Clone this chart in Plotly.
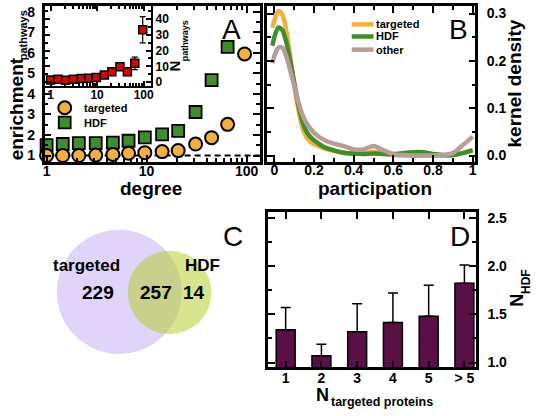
import plotly.graph_objects as go

W, H = 537, 416
FONT = "Liberation Sans, Arial, Helvetica, sans-serif"

# ---------------- data ----------------
# Panel A: enrichment vs degree
degree = [1, 1.45, 2.1, 3.1, 4.6, 6.6, 9.6, 14.3, 20.7, 30.9, 44.7, 64.6, 95.5]
enrich_targeted = [1.0, 1.0, 1.0, 1.02, 1.05, 1.11, 1.14, 1.19, 1.24, 1.56, 1.87, 2.52, 5.95]
degree_hdf = [1, 1.45, 2.1, 3.1, 4.6, 6.6, 9.6, 14.3, 20.7, 30.9, 44.7, 64.6]
enrich_hdf = [1.51, 1.56, 1.6, 1.6, 1.63, 1.72, 1.88, 2.03, 2.2, 3.12, 4.67, 6.29]
# inset: N pathways vs degree
n_pathways = [1.4, 1.9, 1.2, 1.9, 2.3, 2.5, 2.9, 4.6, 6.6, 9.8, 6.6, 11.9, 33.2]
n_pathways_err = [0.4, 0.4, 0.4, 0.4, 0.4, 0.5, 0.5, 0.6, 0.8, 1.0, 1.0, 4.0, 8.3]

# Panel B: kernel density of participation
participation = [-0.01, 0.0, 0.02, 0.04, 0.06, 0.08, 0.10, 0.12, 0.14, 0.16, 0.18, 0.20,
                 0.25, 0.30, 0.35, 0.40, 0.45, 0.50, 0.55, 0.60, 0.65, 0.70, 0.75,
                 0.80, 0.85, 0.90, 0.95, 1.0]
kd_targeted = [0.27, 0.285, 0.305, 0.298, 0.265, 0.21, 0.15, 0.10, 0.06, 0.04, 0.03, 0.024,
               0.015, 0.01, 0.006, 0.004, 0.004, 0.008, 0.004, 0.001, 0.0, 0.0, 0.0,
               0.0, 0.0, 0.001, 0.006, 0.012]
kd_hdf = [0.232, 0.25, 0.27, 0.265, 0.24, 0.2, 0.155, 0.11, 0.075, 0.052, 0.04, 0.032,
          0.018, 0.011, 0.006, 0.004, 0.003, 0.004, 0.003, 0.003, 0.005, 0.007, 0.007,
          0.003, 0.001, 0.001, 0.005, 0.011]
kd_other = [0.195, 0.21, 0.228, 0.228, 0.21, 0.18, 0.148, 0.115, 0.088, 0.07, 0.058, 0.048,
            0.033, 0.025, 0.02, 0.013, 0.013, 0.02, 0.011, 0.003, 0.001, 0.0, 0.0,
            0.0, 0.001, 0.005, 0.022, 0.04]

# Panel C: Venn counts
venn_only_targeted = 229
venn_both = 257
venn_only_hdf = 14

# Panel D: N_HDF vs N_targeted proteins
d_categories = ["1", "2", "3", "4", "5", "> 5"]
n_hdf = [1.34, 1.07, 1.32, 1.415, 1.48, 1.82]
n_hdf_err = [0.23, 0.12, 0.29, 0.305, 0.32, 0.19]

# ---------------- styles ----------------
C_ORANGE = "#F2B03E"
C_GREEN = "#3F8D2C"
C_RED = "#CC0A0A"
C_PINK = "#B89C97"
C_BAR = "#5A0F46"


def px(x):
    return x / W


def py(y):
    return 1 - y / H


def tfont(size, bold=True):
    d = dict(family=FONT, size=size, color="black")
    if bold:
        d["weight"] = "bold"
    return d


def ax(**kw):
    d = dict(showline=True, linecolor="black", linewidth=2.5, mirror="ticks",
             ticks="inside", ticklen=7, tickwidth=2, tickcolor="black",
             showgrid=False, zeroline=False, tickfont=tfont(14), fixedrange=True)
    d.update(kw)
    return d


def minor(**kw):
    d = dict(ticks="inside", ticklen=4, tickwidth=1.5, tickcolor="black", showgrid=False)
    d.update(kw)
    return d


log_minor = [2, 3, 4, 5, 6, 7, 8, 9, 20, 30, 40, 50, 60, 70, 80, 90]

fig = go.Figure()

# ---- Panel A ----
fig.add_trace(go.Scatter(x=degree_hdf, y=enrich_hdf, mode="markers", xaxis="x", yaxis="y",
                         marker=dict(symbol="square", size=12, color=C_GREEN,
                                     line=dict(color="black", width=1.8)),
                         cliponaxis=False, name="HDF"))
fig.add_trace(go.Scatter(x=degree, y=enrich_targeted, mode="markers", xaxis="x", yaxis="y",
                         marker=dict(symbol="circle", size=13, color=C_ORANGE,
                                     line=dict(color="black", width=2)),
                         cliponaxis=False, name="targeted"))
# inset
fig.add_trace(go.Scatter(x=degree, y=n_pathways, mode="markers", xaxis="x3", yaxis="y3",
                         marker=dict(symbol="square", size=8, color=C_RED,
                                     line=dict(color="black", width=1.5)),
                         error_y=dict(type="data", array=n_pathways_err, color="black",
                                      thickness=1.2, width=3),
                         cliponaxis=False, name="N pathways"))

# ---- Panel B ----
for yv, col, nm in [(kd_targeted, C_ORANGE, "targeted"), (kd_hdf, C_GREEN, "HDF"),
                    (kd_other, C_PINK, "other")]:
    fig.add_trace(go.Scatter(x=participation, y=yv, mode="lines", xaxis="x2", yaxis="y2",
                             line=dict(color=col, width=4.5, shape="spline", smoothing=0.8),
                             name=nm))

# ---- Panel D ----
fig.add_trace(go.Bar(x=d_categories, y=n_hdf, xaxis="x4", yaxis="y4", width=0.53,
                     marker=dict(color=C_BAR, line=dict(color="black", width=1.5)),
                     error_y=dict(type="data", array=n_hdf_err, arrayminus=[0] * len(n_hdf),
                                  symmetric=False, color="black", thickness=1.5, width=5),
                     name="N_HDF"))

A_X = [px(43), px(260)]
A_Y = [py(162), py(4)]
fig.update_layout(
    width=W, height=H, margin=dict(l=0, r=0, t=0, b=0),
    paper_bgcolor="white", plot_bgcolor="white", showlegend=False,
    xaxis=ax(type="log", domain=A_X, anchor="y", range=[-0.02, 2.13],
             tickmode="array", tickvals=[1, 10, 100], ticktext=["1", "10", "100"],
             minor=minor(tickmode="array", tickvals=log_minor), ticklabelstandoff=-5),
    yaxis=ax(domain=A_Y, anchor="x", range=[0.70, 8.29], tick0=1, dtick=1,
             minor=minor(dtick=0.5, tick0=1), ticklabelstandoff=4),
    xaxis3=ax(type="log", domain=[px(43), px(150.5)], anchor="y3", range=[-0.128, 2.16],
              tickmode="array", tickvals=[1, 10, 100], ticktext=["1", "10", "100"],
              tickfont=tfont(12), linewidth=2, ticklen=5, ticklabelstandoff=-3,
              minor=minor(tickmode="array", tickvals=log_minor, ticklen=3)),
    yaxis3=ax(domain=[py(85), py(4)], anchor="x3", side="right", range=[-2.3, 48.3],
              dtick=10, tickfont=tfont(12), linewidth=2, ticklen=5,
              minor=minor(dtick=5, ticklen=3)),
    xaxis2=ax(domain=[px(267.7), px(477.7)], anchor="y2", range=[-0.036, 1.013],
              dtick=0.2, tick0=0, minor=minor(dtick=0.1, tick0=0), ticklabelstandoff=-6),
    yaxis2=ax(domain=A_Y, anchor="x2", side="right", range=[-0.013, 0.316],
              dtick=0.1, tick0=0, tickformat=".1f", minor=minor(dtick=0.05, tick0=0),
              ticklabelstandoff=6),
    xaxis4=ax(domain=[px(268.3), px(478.3)], anchor="y4", type="category",
              range=[-0.5, 5.32], ticklabelstandoff=-4),
    yaxis4=ax(domain=[py(370.7), py(213)], anchor="x4", side="right", range=[0.95, 2.56],
              dtick=0.5, tick0=1, tickformat=".1f", minor=minor(dtick=0.25, tick0=1),
              ticklabelstandoff=6),
    xaxis5=dict(domain=[0, px(265)], anchor="y5", range=[0, 265], visible=False,
                fixedrange=True),
    yaxis5=dict(domain=[0, 1 - 200 / H], anchor="x5", range=[0, 216], visible=False,
                fixedrange=True),
)

# dashed baseline at enrichment = 1
fig.add_shape(type="line", xref="x domain", yref="y", x0=0, x1=1, y0=1, y1=1,
              line=dict(color="black", width=2, dash="6px,4px"), layer="below")

# ---- Panel C: Venn (layout geometry; y5 = 416 - pixel row) ----
VENN_T = dict(cx=118.3, cy=416 - 294.2, r=63)
VENN_H = dict(cx=169.2, cy=416 - 294.7, r=42.3)
fig.add_shape(type="circle", xref="x5", yref="y5",
              x0=VENN_T["cx"] - VENN_T["r"], x1=VENN_T["cx"] + VENN_T["r"],
              y0=VENN_T["cy"] - VENN_T["r"], y1=VENN_T["cy"] + VENN_T["r"],
              fillcolor="rgb(225,212,251)", line=dict(width=0), layer="below")
fig.add_shape(type="circle", xref="x5", yref="y5",
              x0=VENN_H["cx"] - VENN_H["r"], x1=VENN_H["cx"] + VENN_H["r"],
              y0=VENN_H["cy"] - VENN_H["r"], y1=VENN_H["cy"] + VENN_H["r"],
              fillcolor="rgba(178,204,30,0.5)", line=dict(width=0), layer="below")

ann = []


def add_text(text, x, y, size, bold=True, angle=0, xanchor="center"):
    ann.append(dict(text=text, x=px(x), y=py(y), xref="paper", yref="paper",
                    showarrow=False, font=tfont(size, bold), textangle=angle,
                    xanchor=xanchor, yanchor="middle"))


# Venn texts
add_text("targeted", 85, 267, 17)
add_text(str(venn_only_targeted), 96.7, 295, 19)
add_text(str(venn_both), 155, 295, 19)
add_text(str(venn_only_hdf), 193.5, 295, 19)
add_text("HDF", 202.5, 267, 17)

# panel letters
add_text("A", 232, 28, 28, bold=False)
add_text("B", 461, 28, 28, bold=False)
add_text("C", 233, 238, 28, bold=False)
add_text("D", 462, 238, 28, bold=False)

# axis titles (main part + subscript part placed separately)
add_text("enrichment", 15, 108, 19, angle=-90)
add_text("pathways", 21, 34, 11, angle=-90)
add_text("degree", 150.5, 189, 19)
add_text("N", 174, 65, 15, angle=-90)
add_text("pathways", 185.5, 39, 9, angle=-90)
add_text("participation", 376.7, 189, 19)
add_text("kernel density", 517, 82.5, 19, angle=-90)
add_text("N", 324, 399, 18)
add_text("targeted proteins", 383.5, 406, 12.5)
add_text("N", 519, 303, 18, angle=-90)
add_text("HDF", 529, 284, 12, angle=-90)

# legend panel A (manual)
fig.add_shape(type="circle", xref="paper", yref="paper",
              x0=px(63.3 - 6.5), x1=px(63.3 + 6.5), y0=py(107.3 + 6.5), y1=py(107.3 - 6.5),
              fillcolor=C_ORANGE, line=dict(color="black", width=2))
fig.add_shape(type="rect", xref="paper", yref="paper",
              x0=px(63.3 - 6), x1=px(63.3 + 6), y0=py(122.3 + 6), y1=py(122.3 - 6),
              fillcolor=C_GREEN, line=dict(color="black", width=1.8))
add_text("targeted", 80.5, 107.3, 11, xanchor="left")
add_text("HDF", 80.5, 122.3, 11, xanchor="left")

# legend panel B (manual)
for yy, col, nm in [(22.7, C_ORANGE, "targeted"), (35, C_GREEN, "HDF"), (48.3, C_PINK, "other")]:
    fig.add_shape(type="line", xref="paper", yref="paper", x0=px(353), x1=px(375),
                  y0=py(yy), y1=py(yy), line=dict(color=col, width=4.5))
    add_text(nm, 375, yy, 11, xanchor="left")

fig.update_layout(annotations=ann)

fig.write_html("out.html", config={"displayModeBar": False},
               post_script="document.body.style.margin='0px';")
